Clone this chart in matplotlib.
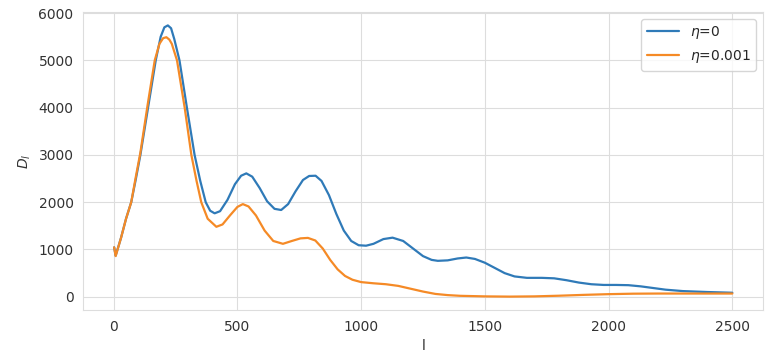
import numpy as np
import seaborn as sns
import matplotlib
matplotlib.use('Agg')
from matplotlib import pyplot as plt

# values
ell_eta0 = [2, 8, 30, 50, 71, 90, 108, 139, 170, 190, 205, 219, 232, 245, 266,
            296, 327, 350, 372, 390, 408, 430, 460, 490, 515, 536, 560, 590, 620,
            650, 677, 705, 735, 765, 790, 816, 840, 870, 900, 930, 960, 990, 1020,
            1050, 1090, 1127, 1170, 1210, 1250, 1285, 1310, 1350, 1390, 1425, 1460,
            1500, 1540, 1580, 1620, 1670, 1730, 1780, 1830, 1880, 1930, 1980, 2030,
            2080, 2130, 2180, 2230, 2300, 2400, 2500]
D_eta0 = [1045, 870, 1250, 1650, 2000, 2500, 3000, 4000, 5000, 5500, 5700, 5740,
          5680, 5450, 5000, 4000, 3000, 2450, 2000, 1820, 1765, 1810, 2050, 2380,
          2560, 2610, 2540, 2300, 2020, 1860, 1835, 1960, 2230, 2470, 2555, 2560,
          2450, 2150, 1750, 1400, 1180, 1090, 1080, 1120, 1220, 1250, 1180, 1020,
          860, 780, 760, 770, 810, 830, 800, 720, 610, 500, 430, 400, 400, 390,
          350, 300, 265, 250, 250, 245, 220, 185, 150, 120, 100, 85]

ell_eta1 = [2, 8, 30, 50, 71, 90, 108, 137, 166, 185, 200, 213, 225, 235, 256,
            287, 314, 335, 354, 380, 415, 440, 470, 500, 522, 545, 575, 610, 645,
            684, 720, 755, 785, 815, 845, 875, 905, 935, 965, 1000, 1050, 1100,
            1150, 1200, 1250, 1300, 1350, 1400, 1500, 1600, 1700, 1800, 1900, 2000,
            2100, 2200, 2300, 2400, 2500]
D_eta1 = [1045, 860, 1250, 1650, 2000, 2550, 3050, 4050, 5000, 5350, 5470, 5490,
          5440, 5350, 5000, 4000, 3000, 2450, 2000, 1650, 1480, 1530, 1720, 1900,
          1960, 1910, 1720, 1400, 1180, 1120, 1180, 1235, 1245, 1190, 1020, 780,
          580, 440, 360, 310, 285, 265, 230, 170, 110, 60, 35, 20, 8, 3, 8, 22,
          40, 55, 65, 68, 68, 68, 68]

sns.set_style('whitegrid', {'grid.color': '#dddddd', 'axes.edgecolor': '#dddddd'})

fig = plt.figure(figsize=(7.78, 3.59), dpi=100)
ax = fig.add_axes([0.107, 0.136, 0.874, 0.831])
ax.plot(ell_eta0, D_eta0, color='#2f7ab8', lw=1.6, label=r'$\eta$=0')
ax.plot(ell_eta1, D_eta1, color='#f58a26', lw=1.6, label=r'$\eta$=0.001')
ax.set_xlabel('l', fontsize=10, color='#333333')
ax.set_ylabel(r'$D_l$', fontsize=10, color='#333333')
ax.tick_params(labelsize=10, labelcolor='#333333')
ax.legend(loc='upper right', fontsize=10, handlelength=2.3)

fig.savefig('out.png', dpi=100)
